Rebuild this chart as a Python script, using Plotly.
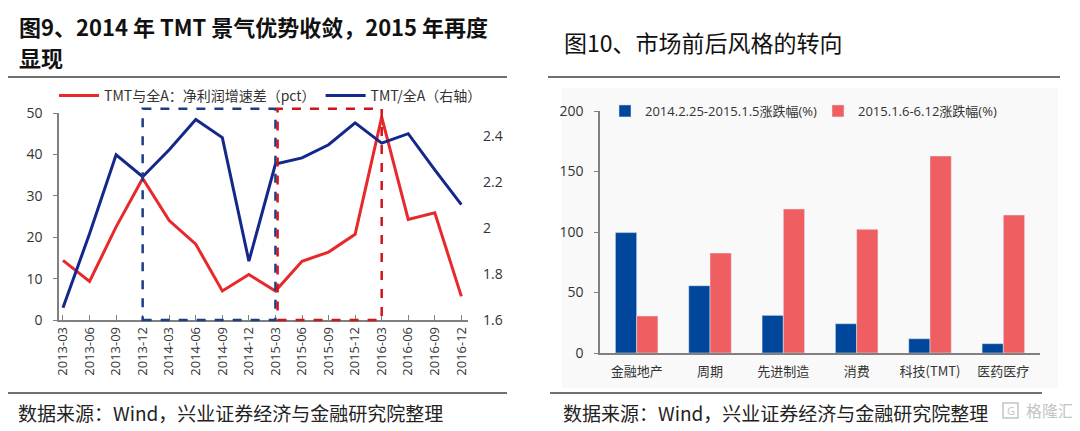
import plotly.graph_objects as go

# Left chart data: TMT vs all-A
quarters = ['2013-03', '2013-06', '2013-09', '2013-12', '2014-03', '2014-06', '2014-09', '2014-12',
            '2015-03', '2015-06', '2015-09', '2015-12', '2016-03', '2016-06', '2016-09', '2016-12']
profit_gap = [14.4, 9.3, 22.5, 34.2, 24.0, 18.3, 7.0, 11.0, 7.0, 14.2, 16.4, 20.7, 49.0, 24.3, 25.9, 5.7]
tmt_ratio = [1.653, 1.975, 2.318, 2.223, 2.340, 2.472, 2.393, 1.856, 2.278, 2.305, 2.362, 2.457,
             2.369, 2.410, 2.253, 2.102]

# highlighted periods (start quarter, end quarter)
period_2014 = ['2013-12', '2015-03']
period_2015 = ['2015-03', '2016-03']

# Right chart data: sector returns
sectors = ['金融地产', '周期', '先进制造', '消费', '科技(TMT)', '医药医疗']
chg_2014 = [99.5, 55.6, 31.1, 24.2, 11.8, 7.7]
chg_2015 = [30.6, 82.6, 119.0, 102.2, 162.8, 114.0]

FONT = 'Open Sans, Noto Sans CJK SC, sans-serif'
CJK = 'Noto Sans CJK SC, sans-serif'
RED = '#e8282b'
NAVY = '#13288a'

# page has an 8px body margin, so the figure is a bit smaller than the window
W, H, OFF = 1072, 423, 8


def px(x):
    # page pixel -> paper x
    return (x - OFF) / W


def py(y):
    # page pixel (from top) -> paper y
    return 1 - (y - OFF) / H


fig = go.Figure()

fig.add_trace(go.Scatter(x=quarters, y=profit_gap, name='TMT与全A：净利润增速差（pct）',
                         mode='lines', line=dict(color=RED, width=3), legend='legend'))
fig.add_trace(go.Scatter(x=quarters, y=tmt_ratio, name='TMT/全A（右轴）', yaxis='y3',
                         mode='lines', line=dict(color=NAVY, width=3), legend='legend'))

fig.add_trace(go.Bar(x=sectors, y=chg_2014, name='2014.2.25-2015.1.5涨跌幅(%)',
                     marker=dict(color='#00479b'), xaxis='x2', yaxis='y2', legend='legend2'))
fig.add_trace(go.Bar(x=sectors, y=chg_2015, name='2015.1.6-6.12涨跌幅(%)',
                     marker=dict(color='#ef5f61'), xaxis='x2', yaxis='y2', legend='legend2'))

# dashed boxes around the two periods (top edge just above the 50 line)
fig.add_shape(type='rect', xref='x', yref='y domain',
              x0=quarters.index(period_2014[0]), x1=quarters.index(period_2014[1]), y0=0, y1=1.02,
              line=dict(color='#1f3c88', width=2.5, dash='dash'))
fig.add_shape(type='rect', xref='x', yref='y domain',
              x0=quarters.index(period_2015[0]) + 0.08, x1=quarters.index(period_2015[1]), y0=0, y1=1.02,
              line=dict(color='#d0141b', width=2.5, dash='dash'))

# faint panel background for the right chart
fig.add_shape(type='rect', xref='paper', yref='paper', x0=px(562), x1=px(1058), y0=py(388), y1=py(88),
              fillcolor='#f9f9f9', line=dict(width=0), layer='below')

# rules under titles and above sources
for x0, x1 in [(3, 507), (548, 1060)]:
    fig.add_shape(type='line', xref='paper', yref='paper', x0=px(x0), x1=px(x1), y0=py(77), y1=py(77),
                  line=dict(color='#404040', width=1.5))
for x0, x1 in [(3, 507), (550, 1042)]:
    fig.add_shape(type='line', xref='paper', yref='paper', x0=px(x0), x1=px(x1), y0=py(393), y1=py(393),
                  line=dict(color='#404040', width=1.5))

# titles
fig.add_annotation(text='<b>图9、2014 年 TMT 景气优势收敛，2015 年再度</b>', xref='paper', yref='paper',
                   x=px(17), y=py(26), xanchor='left', yanchor='middle', showarrow=False,
                   font=dict(family=CJK, size=22, color='#111111'))
fig.add_annotation(text='<b>显现</b>', xref='paper', yref='paper',
                   x=px(17), y=py(57), xanchor='left', yanchor='middle', showarrow=False,
                   font=dict(family=CJK, size=22, color='#111111'))
fig.add_annotation(text='图10、市场前后风格的转向', xref='paper', yref='paper',
                   x=px(562), y=py(42), xanchor='left', yanchor='middle', showarrow=False,
                   font=dict(family=CJK, size=23, color='#111111'))

# sources
for xs in [16, 561]:
    fig.add_annotation(text='数据来源：Wind，兴业证券经济与金融研究院整理', xref='paper', yref='paper',
                       x=px(xs), y=py(412), xanchor='left', yanchor='middle', showarrow=False,
                       font=dict(family=CJK, size=19, color='#222222'))

# watermark (logo box + name)
fig.add_shape(type='rect', xref='paper', yref='paper', x0=px(1003), x1=px(1018), y0=py(418), y1=py(403),
              line=dict(color='#c4c4c4', width=1.5))
fig.add_annotation(text='G', xref='paper', yref='paper', x=px(1010.5), y=py(410.5),
                   xanchor='center', yanchor='middle', showarrow=False,
                   font=dict(family=FONT, size=11, color='#c4c4c4'))
fig.add_annotation(text='格隆汇', xref='paper', yref='paper', x=px(1076), y=py(410),
                   xanchor='right', yanchor='middle', showarrow=False,
                   font=dict(family=CJK, size=16, color='#c4c4c4'))

fig.update_layout(
    width=W, height=H,
    margin=dict(l=0, r=0, t=0, b=0, autoexpand=False),
    paper_bgcolor='white',
    plot_bgcolor='rgba(0,0,0,0)',
    font=dict(family=FONT, size=14, color='#333333'),
    barmode='group', bargap=0.42, bargroupgap=0,
    xaxis=dict(domain=[px(59), px(468)], type='category', range=[-0.15, 15.25],
               showline=True, linecolor='#808080', linewidth=1.5,
               ticks='inside', ticklen=5, tickcolor='#808080', tickangle=-90,
               tickfont=dict(size=13, color='#333333'), showgrid=False, anchor='y'),
    yaxis=dict(domain=[py(320), py(113)], range=[0, 50], dtick=10,
               showline=True, linecolor='#808080', linewidth=1.5,
               ticks='outside', ticklen=4, tickcolor='#808080', ticklabelstandoff=8,
               showgrid=False, zeroline=False, tickfont=dict(size=14, color='#333333')),
    yaxis3=dict(overlaying='y', side='right', anchor='x', range=[1.6, 2.5],
                tickvals=[1.6, 1.8, 2.0, 2.2, 2.4], ticktext=['1.6', '1.8', '2', '2.2', '2.4'],
                showline=False, showgrid=False, zeroline=False, ticklabelstandoff=14,
                tickfont=dict(size=14, color='#333333')),
    xaxis2=dict(domain=[px(600), px(1040)], anchor='y2', showline=True, linecolor='#808080',
                linewidth=1.5, ticks='', showgrid=False, ticklabelstandoff=6,
                tickfont=dict(family=CJK, size=13, color='#333333')),
    yaxis2=dict(domain=[py(353), py(111)], anchor='x2', range=[0, 200], dtick=50,
                showline=True, linecolor='#808080', linewidth=1.5,
                ticks='outside', ticklen=4, tickcolor='#808080', ticklabelstandoff=8,
                showgrid=False, zeroline=False, tickfont=dict(size=14, color='#333333')),
    legend=dict(orientation='h', x=px(54), y=py(96), xanchor='left', yanchor='middle',
                bgcolor='rgba(0,0,0,0)', font=dict(family=CJK, size=14, color='#333333'),
                itemwidth=40),
    legend2=dict(orientation='h', x=px(605), y=py(111), xanchor='left', yanchor='middle',
                 bgcolor='rgba(0,0,0,0)', font=dict(family=FONT, size=13, color='#333333'),
                 itemwidth=30, entrywidth=168),
)

fig.write_html('out.html')
